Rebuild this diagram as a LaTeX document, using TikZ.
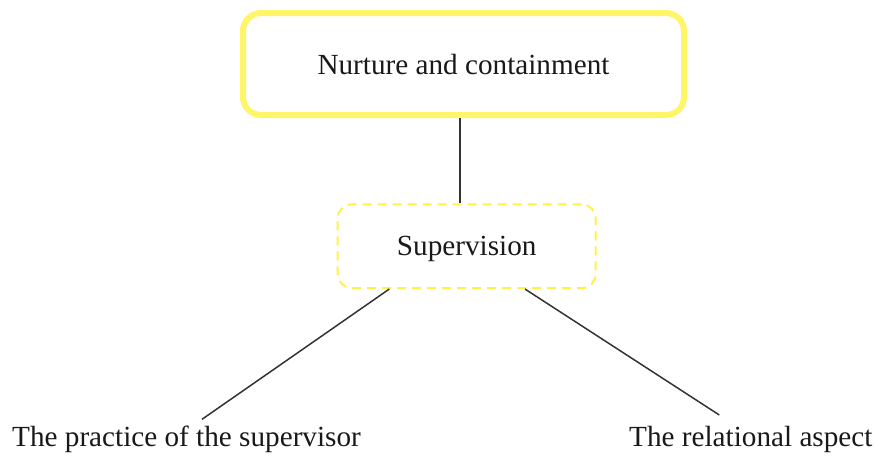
\documentclass[tikz,border=0pt]{standalone}
\usepackage{fontspec}
\setmainfont{Liberation Serif}
\begin{document}
\begin{tikzpicture}[x=1pt,y=-1pt,
  every node/.style={font=\fontsize{29.2}{35}\selectfont, text=black!90},
  mainbox/.style={draw=yellowA, line width=6pt, rounded corners=18pt,
    minimum width=441pt, minimum height=102pt, inner sep=0pt,
    text height=21.5pt, text depth=0pt},
  subbox/.style={draw=yellowB, line width=2pt, rounded corners=14pt,
    dash pattern=on 9pt off 6pt, minimum width=258pt, minimum height=83.7pt, inner sep=0pt,
    text height=20pt, text depth=2pt},
  leaf/.style={inner sep=0pt, anchor=base west},
  link/.style={draw=black!80, line width=1.5pt}
]
\definecolor{yellowA}{RGB}{255,245,105}
\definecolor{yellowB}{RGB}{255,242,70}
\useasboundingbox (0,0) rectangle (875,461);

\node[mainbox] (top) at (463.5,64) {Nurture and containment};
\node[subbox] (sup) at (466.7,246.2) {Supervision};
\node[leaf] (prac) at (12,446.7) {The practice of the supervisor};
\node[leaf] (rel) at (629,446.7) {The relational aspect};

\coordinate (pl) at (202,419.3);
\coordinate (rl) at (719.3,415);

\draw[link] ([xshift=-3.5pt]top.south) -- ([xshift=-6.7pt]sup.north);
\draw[link] ([xshift=-77.4pt]sup.south) -- (pl);
\draw[link] ([xshift=58.3pt]sup.south) -- (rl);
\end{tikzpicture}
\end{document}
